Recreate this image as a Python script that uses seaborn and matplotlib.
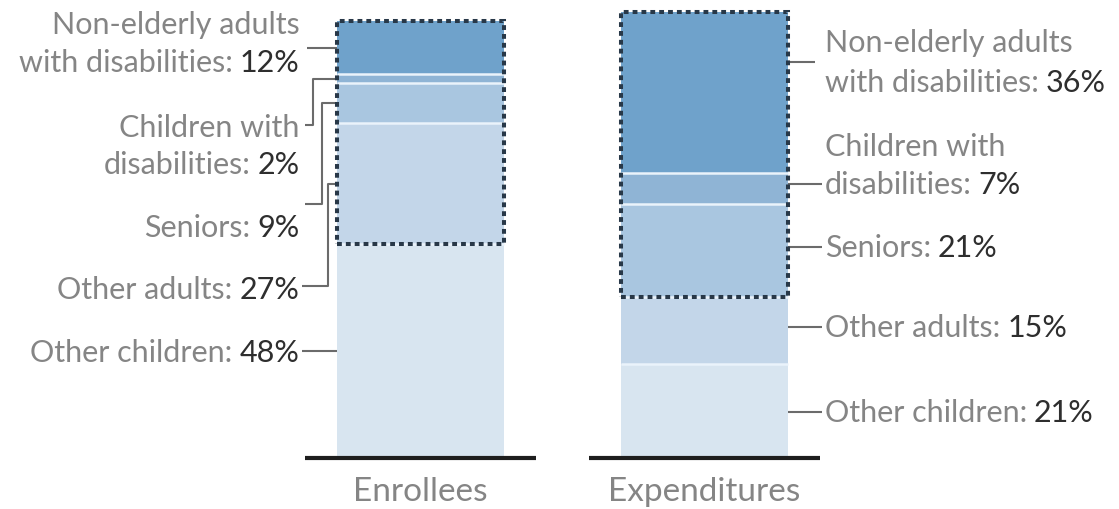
import matplotlib
matplotlib.use("Agg")
import matplotlib.pyplot as plt
from matplotlib.patches import Rectangle
import seaborn as sns
import pandas as pd
import numpy as np

sns.set_style("white")
plt.rcParams['font.family'] = ['Lato', 'DejaVu Sans']

groups = ["Enrollees", "Expenditures"]
categories = ["Other children", "Other adults", "Seniors",
              "Children with disabilities", "Non-elderly adults with disabilities"]
enrollees = [48, 27, 9, 2, 12]
expenditures = [21, 15, 21, 7, 36]
# first category that sits inside the dotted box, per bar
boxed_from = [1, 2]

# label text per category, the last line gets the percent
label_lines = [["Other children:"], ["Other adults:"], ["Seniors:"],
               ["Children with", "disabilities:"],
               ["Non-elderly adults", "with disabilities:"]]

palette = ["#d8e5f0", "#c3d6e9", "#a9c6e0", "#8fb4d5", "#6fa2cb"]
GRAY = "#858585"
DARK = "#2e2e2e"
LINE = "#6b6b6b"
FS = 22
BW = 0.588

df = pd.DataFrame({
    "group": np.repeat(groups, len(categories)),
    "category": categories * len(groups),
    "value": enrollees + expenditures,
})
df["top"] = df.groupby("group")["value"].cumsum()
df["bottom"] = df["top"] - df["value"]
df["mid"] = df["bottom"] + df["value"] / 2

fig = plt.figure(figsize=(11.19, 5.10), dpi=100)
ax = fig.add_axes([0, 51 / 510, 1, 459 / 510])

# stacked bars: draw cumulative tops, largest first
for cat, col in reversed(list(zip(categories, palette))):
    sns.barplot(data=df[df.category == cat], x="group", y="top", order=groups,
                color=col, saturation=1, width=BW, errorbar=None,
                linewidth=0, ax=ax)

for i, g in enumerate(groups):
    sub = df[df.group == g].reset_index(drop=True)
    ax.hlines(sub["top"].iloc[:-1], i - BW / 2, i + BW / 2,
              color="#eaf3fb", lw=1.8, zorder=3)
    y0 = sub["bottom"].iloc[boxed_from[i]]
    y1 = sub["top"].iloc[-1]
    ax.add_patch(Rectangle((i - BW / 2, y0), BW, y1 - y0, fill=False,
                           ec="#283848", lw=2.9, ls=(0, (1.2, 1.0)),
                           clip_on=False, zorder=5))
    ax.hlines(0, i - 0.406, i + 0.406, color="#1e1e1e", lw=3,
              clip_on=False, zorder=6)


def put_label(x, ys, lines, pct, side):
    ha = "right" if side == "left" else "left"
    for y, line in zip(ys[:-1], lines[:-1]):
        ax.text(x, y, line, ha=ha, va="center", color=GRAY, fontsize=FS)
    y = ys[-1]
    if side == "left":
        t = ax.text(x, y, pct, ha="right", va="center", color=DARK, fontsize=FS)
        ax.annotate(lines[-1], xy=(0, 0.5), xycoords=t, xytext=(-5, 0),
                    textcoords="offset points", ha="right", va="center",
                    color=GRAY, fontsize=FS)
    else:
        t = ax.text(x, y, lines[-1], ha="left", va="center", color=GRAY,
                    fontsize=FS)
        ax.annotate(pct, xy=(1, 0.5), xycoords=t, xytext=(5, 0),
                    textcoords="offset points", ha="left", va="center",
                    color=DARK, fontsize=FS)


# left side (Enrollees)
left_text_y = [[23.8], [37.9], [51.8], [74.2, 65.9], [97.3, 88.8]]
left_start_x = [-0.417, -0.417, -0.407, -0.407, -0.398]
left_start_y = [None, 38.6, 57.0, 74.7, None]
left_elbow_x = [None, -0.326, -0.347, -0.379, None]

enr = df[df.group == groups[0]].reset_index(drop=True)
edge = -BW / 2
for k in range(len(categories)):
    put_label(-0.426, left_text_y[k], label_lines[k], f"{enrollees[k]}%", "left")
    mid = enr["mid"].iloc[k]
    if left_elbow_x[k] is None:
        xs = [left_start_x[k], edge]
        ys = [mid, mid]
    else:
        sy = left_start_y[k]
        ex = left_elbow_x[k]
        xs = [left_start_x[k], ex, ex, edge]
        ys = [sy, sy, mid, mid]
    ax.plot(xs, ys, color=LINE, lw=1.5, solid_capstyle="butt", zorder=4)

# right side (Expenditures)
right_text_y = [[10.3], [29.4], [47.3], [70.0, 61.4], [93.3, 84.3]]
right_line_y = [10.3, 29.4, 47.3, 61.4, 88.8]
right_line_end = [1.414, 1.414, 1.414, 1.414, 1.389]
for k in range(len(categories)):
    put_label(1.424, right_text_y[k], label_lines[k], f"{expenditures[k]}%", "right")
    ax.plot([1 + BW / 2, right_line_end[k]], [right_line_y[k]] * 2,
            color=LINE, lw=1.5, solid_capstyle="butt", zorder=4)

ax.set_xlim(-1.4806, 2.4595)
ax.set_ylim(0, 102.91)
ax.set_xlabel("")
ax.set_ylabel("")
ax.set_yticks([])
ax.tick_params(axis="x", length=0, pad=13, labelsize=24, labelcolor=GRAY)
sns.despine(ax=ax, left=True, bottom=True)
ax.grid(False)

fig.savefig("out.png", dpi=100)
